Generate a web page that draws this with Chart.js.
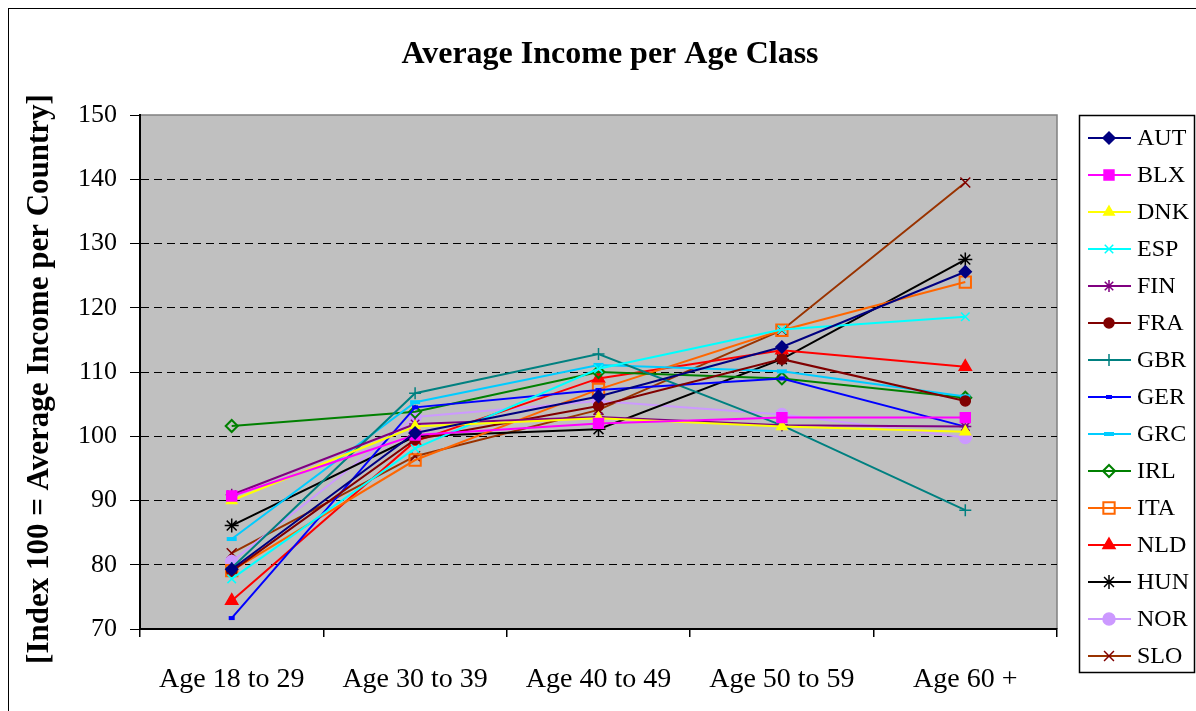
<!DOCTYPE html>
<html>
<head>
<meta charset="utf-8">
<title>Average Income per Age Class</title>
<script src="https://cdn.jsdelivr.net/npm/chart.js@4/dist/chart.umd.min.js"></script>
<style>
  html, body { margin: 0; padding: 0; background: #fff; }
  canvas { display: block; }
</style>
</head>
<body>
<canvas id="incomeChart" width="1196" height="711"></canvas>
<script>
// categories
const ageClasses = ['Age 18 to 29', 'Age 30 to 39', 'Age 40 to 49', 'Age 50 to 59', 'Age 60 +'];
const yTicks = [70, 80, 90, 100, 110, 120, 130, 140, 150];

// index values per country
const AUT = [79.3, 100.5, 106.2, 113.9, 125.6];
const BLX = [90.7, 100.2, 102.0, 102.9, 102.9];
const DNK = [90.0, 101.5, 102.8, 101.5, 100.7];
const ESP = [77.8, 98.1, 110.5, 116.6, 118.6];
const FIN = [90.9, 101.9, 103.0, 101.7, 101.5];
const FRA = [79.0, 99.5, 104.7, 112.0, 105.5];
const GBR = [79.5, 106.7, 112.8, 101.7, 88.5];
const GER = [71.7, 104.5, 107.2, 109.0, 101.5];
const GRC = [84.0, 105.3, 111.1, 110.1, 106.2];
const IRL = [101.6, 103.8, 110.0, 109.0, 106.0];
const ITA = [79.1, 96.3, 107.3, 116.5, 124.0];
const NLD = [74.4, 99.2, 109.0, 113.4, 110.8];
const HUN = [86.1, 100.0, 101.1, 112.0, 127.5];
const NOR = [80.5, 103.0, 105.5, 103.4, 99.8];
const SLO = [81.8, 96.9, 104.1, 116.5, 139.5];

const serif = "'Liberation Serif', 'Times New Roman', serif";
const none = 'rgba(0,0,0,0)';

function series(label, data, color, style, radius, extra) {
    return Object.assign({
        label: label,
        data: data,
        borderColor: color,
        backgroundColor: color,
        pointBorderColor: color,
        pointBackgroundColor: color,
        pointStyle: style,
        pointRadius: radius,
        pointHoverRadius: radius,
        pointBorderWidth: 1.5,
        borderWidth: 2,
        tension: 0,
        fill: false
    }, extra || {});
}

const datasets = [
    series('AUT', AUT, '#000080', 'rectRot', 6),
    series('BLX', BLX, '#FF00FF', 'rect', 7),
    series('DNK', DNK, '#FFFF00', 'triangle', 6),
    series('ESP', ESP, '#00FFFF', 'crossRot', 6),
    series('FIN', FIN, '#800080', 'star', 6),
    series('FRA', FRA, '#800000', 'circle', 5),
    series('GBR', GBR, '#008080', 'cross', 6),
    series('GER', GER, '#0000FF', 'line', 3, { pointBorderWidth: 4 }),
    series('GRC', GRC, '#00CCFF', 'line', 5, { pointBorderWidth: 4 }),
    series('IRL', IRL, '#008000', 'rectRot', 6, { pointBackgroundColor: none, pointBorderWidth: 2 }),
    series('ITA', ITA, '#FF6600', 'rect', 8, { pointBackgroundColor: none, pointBorderWidth: 2 }),
    series('NLD', NLD, '#FF0000', 'triangle', 7),
    series('HUN', HUN, '#000000', 'star', 7),
    series('NOR', NOR, '#CC99FF', 'circle', 6),
    series('SLO', SLO, '#993300', 'crossRot', 7, { pointBorderColor: '#800000' })
];

// grey plot background, plot frame, outer frame, titles and boxed legend
const decor = {
    id: 'decor',
    beforeDraw(chart) {
        const { ctx, chartArea: a } = chart;
        ctx.save();
        ctx.fillStyle = '#C0C0C0';
        ctx.fillRect(a.left, a.top, a.right - a.left, a.bottom - a.top);
        ctx.strokeStyle = '#808080';
        ctx.lineWidth = 1.5;
        ctx.beginPath();
        ctx.moveTo(a.left, a.top);
        ctx.lineTo(a.right, a.top);
        ctx.lineTo(a.right, a.bottom);
        ctx.stroke();
        ctx.restore();
    },
    afterDraw(chart) {
        const { ctx } = chart;
        ctx.save();
        // outer chart frame
        ctx.strokeStyle = '#000';
        ctx.lineWidth = 1;
        ctx.strokeRect(8.5, 8.5, 1200, 710);

        // chart title
        ctx.fillStyle = '#000';
        ctx.font = 'bold 32px ' + serif;
        ctx.textAlign = 'center';
        ctx.textBaseline = 'alphabetic';
        ctx.fillText('Average Income per Age Class', 610, 63);

        // y axis title
        ctx.save();
        ctx.translate(40, 379);
        ctx.rotate(-Math.PI / 2);
        ctx.font = 'bold 31px ' + serif;
        ctx.textBaseline = 'middle';
        ctx.fillText('[Index 100 = Average Income per Country]', 0, 0);
        ctx.restore();

        // legend box
        const lx = 1079, ly = 115, lw = 116, lh = 558;
        ctx.fillStyle = '#fff';
        ctx.fillRect(lx, ly, lw, lh);
        ctx.strokeStyle = '#000';
        ctx.lineWidth = 1.5;
        ctx.strokeRect(lx + 0.5, ly + 0.5, lw - 1, lh - 1);

        ctx.font = '24px ' + serif;
        ctx.textAlign = 'left';
        ctx.textBaseline = 'middle';
        chart.data.datasets.forEach((ds, i) => {
            const y = 138 + i * 37;
            ctx.strokeStyle = ds.borderColor;
            ctx.lineWidth = 2;
            ctx.beginPath();
            ctx.moveTo(1088, y);
            ctx.lineTo(1131, y);
            ctx.stroke();
            ctx.fillStyle = ds.pointBackgroundColor;
            ctx.strokeStyle = ds.pointBorderColor;
            ctx.lineWidth = ds.pointBorderWidth;
            Chart.helpers.drawPoint(ctx, {
                pointStyle: ds.pointStyle,
                radius: ds.pointRadius,
                borderWidth: ds.pointBorderWidth,
                rotation: 0
            }, 1109, y);
            ctx.fillStyle = '#000';
            ctx.fillText(ds.label, 1137, y + 1);
        });
        ctx.restore();
    }
};

new Chart(document.getElementById('incomeChart'), {
    type: 'line',
    data: { labels: ageClasses, datasets: datasets },
    options: {
        responsive: false,
        animation: false,
        devicePixelRatio: 1,
        layout: { padding: { left: 0, right: 139, top: 115, bottom: 0 } },
        plugins: {
            legend: { display: false },
            title: { display: false },
            tooltip: { enabled: false }
        },
        scales: {
            x: {
                offset: true,
                afterFit: scale => { scale.height = 82; },
                grid: {
                    offset: true,
                    drawOnChartArea: false,
                    drawTicks: true,
                    tickLength: 8,
                    color: '#000',
                    lineWidth: 1.5
                },
                border: { color: '#000', width: 2 },
                ticks: {
                    color: '#000',
                    padding: 26,
                    maxRotation: 0,
                    font: { family: serif, size: 28 }
                }
            },
            y: {
                min: yTicks[0],
                max: yTicks[yTicks.length - 1],
                afterFit: scale => { scale.width = 140; },
                afterBuildTicks: scale => { scale.ticks = yTicks.map(v => ({ value: v })); },
                grid: {
                    color: ctx => (ctx.tick && (ctx.tick.value === 70 || ctx.tick.value === 150)) ? none : '#000',
                    tickColor: '#000',
                    tickLength: 10,
                    tickBorderDash: [],
                    lineWidth: 1
                },
                border: { color: '#000', width: 2, dash: [8, 5] },
                ticks: {
                    color: '#000',
                    padding: 13,
                    font: { family: serif, size: 26 }
                }
            }
        }
    },
    plugins: [decor]
});
</script>
</body>
</html>
